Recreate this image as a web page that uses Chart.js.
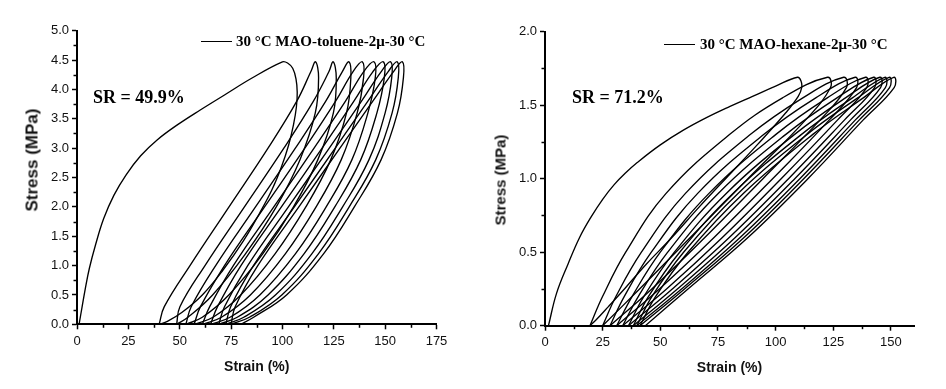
<!DOCTYPE html>
<html>
<head>
<meta charset="utf-8">
<script src="https://cdn.jsdelivr.net/npm/chart.js@4.4.1/dist/chart.umd.min.js"></script>
<style>
  html, body { margin: 0; padding: 0; background: #fff; }
  body { width: 946px; height: 389px; position: relative; overflow: hidden; }
  .wrap { position: absolute; top: 0; }
  .legline { position: absolute; height: 0; border-top: 1.5px solid #000; }
  .legtxt { position: absolute; white-space: nowrap; font: bold 15px 'Liberation Serif', 'Times New Roman', serif; line-height: 18px; color: #000; }
  .sr { position: absolute; white-space: nowrap; font: bold 18px 'Liberation Serif', 'Times New Roman', serif; line-height: 22px; color: #000; }
  .ytitle { position: absolute; white-space: nowrap; font-family: 'Liberation Sans', Arial, sans-serif; font-weight: bold; color: #111;
            transform: translate(-50%, -50%) rotate(-90deg); line-height: 1; }
</style>
</head>
<body>
<div class="wrap" style="left:0;width:470px;height:389px"><canvas id="c1" width="470" height="389"></canvas></div>
<div class="wrap" style="left:470px;width:476px;height:389px"><canvas id="c2" width="476" height="389"></canvas></div>

<div class="ytitle" style="left:31.5px;top:160px;font-size:17px">Stress (MPa)</div>
<div class="legline" style="left:201px;top:40.5px;width:31px"></div>
<div class="legtxt" style="left:236px;top:32px">30 °C MAO-toluene-2μ-30 °C</div>
<div class="sr" style="left:93px;top:86px">SR = 49.9%</div>

<div class="ytitle" style="left:500px;top:180px;font-size:15px">Stress (MPa)</div>
<div class="legline" style="left:664px;top:43.5px;width:31px"></div>
<div class="legtxt" style="left:700px;top:35px">30 °C MAO-hexane-2μ-30 °C</div>
<div class="sr" style="left:572px;top:86px">SR = 71.2%</div>

<script>
// ---------------- Left panel: toluene ----------------
const tolueneXTicks = [0, 25, 50, 75, 100, 125, 150, 175];
const tolueneYTicks = [0, 0.5, 1.0, 1.5, 2.0, 2.5, 3.0, 3.5, 4.0, 4.5, 5.0];
const tolueneXMinor = [12.5, 37.5, 62.5, 87.5, 112.5, 137.5, 162.5];
const tolueneYMinor = [0.25, 0.75, 1.25, 1.75, 2.25, 2.75, 3.25, 3.75, 4.25, 4.75];

// cycle 1
const toluene1LoadStrain = [1, 2.5, 4, 6, 9, 13, 18, 24, 31, 39, 49, 60, 72, 85, 100];
const toluene1LoadStress = [0, 0.3, 0.6, 0.95, 1.35, 1.8, 2.2, 2.55, 2.87, 3.14, 3.4, 3.65, 3.91, 4.19, 4.47];
const toluene1UnloadStrain = [100, 102.5, 105, 106.6, 107.2, 106.8, 105.4, 103, 99.5, 95, 89, 81, 71, 61, 51, 44, 40];
const toluene1UnloadStress = [4.47, 4.45, 4.36, 4.18, 3.95, 3.7, 3.4, 3.05, 2.68, 2.3, 1.9, 1.42, 0.92, 0.5, 0.2, 0.05, 0];

// cycles 2-10
const tolueneLoadStress = [0, 0.3, 1.0, 2.0, 3.0, 3.8, 4.3, 4.47];
const tolueneLoadStrain = [
  [40, 42.5, 55, 74, 93, 107, 113.8, 116.1],
  [48.5, 50.1, 62.3, 81.5, 100.7, 115.1, 122.6, 124.7],
  [53, 55.6, 67.5, 86.9, 106.3, 121.1, 129.1, 132.4],
  [57, 60.1, 71.8, 91.3, 110.9, 125.9, 134.3, 138.9],
  [61, 64.6, 76.1, 95.8, 115.4, 130.7, 139.5, 144.6],
  [65, 68.4, 79.8, 99.5, 119.3, 134.8, 144, 149.1],
  [69, 71.8, 83.1, 102.9, 122.8, 138.5, 148, 152.7],
  [72.5, 74.8, 85.9, 105.8, 125.7, 141.6, 151.4, 155.9],
  [75, 77, 88, 108, 128, 144, 154, 158.4]
];
const tolueneUnloadStress = [4.47, 4.2, 3.6, 2.8, 2.0, 1.2, 0.5, 0.12, 0];
const tolueneUnloadStrain = [
  [116.1, 117.6, 116, 108.5, 97, 82, 66, 54, 48.5],
  [124.7, 126.2, 124.8, 117.2, 105.4, 90.4, 73.9, 61, 53],
  [132.4, 133.3, 131.2, 123.5, 111.4, 96.4, 79.7, 66.2, 57],
  [138.9, 139.5, 136.4, 128.6, 116.4, 101.4, 84.4, 70.3, 61],
  [144.6, 145.2, 141.6, 133.8, 121.3, 106.3, 89, 74.5, 65],
  [149.1, 149.6, 146, 138.1, 125.5, 110.5, 93, 78, 69],
  [152.7, 153.2, 150, 142.1, 129.3, 114.3, 96.6, 81.2, 72.5],
  [155.9, 156.4, 153.4, 145.4, 132.5, 117.5, 99.7, 83.9, 75],
  [158.4, 158.9, 156, 148, 135, 120, 102, 86, 79.6]
];

// ---------------- Right panel: hexane ----------------
const hexaneXTicks = [0, 25, 50, 75, 100, 125, 150];
const hexaneYTicks = [0, 0.5, 1.0, 1.5, 2.0];
const hexaneXMinor = [12.5, 37.5, 62.5, 87.5, 112.5, 137.5];
const hexaneYMinor = [0.25, 0.75, 1.25, 1.75];

const hexane1LoadStrain = [1.5, 5, 10, 15, 20, 25, 30, 35, 40, 50, 60, 70, 80, 90, 100, 109.5];
const hexane1LoadStress = [0, 0.22, 0.42, 0.6, 0.74, 0.86, 0.96, 1.04, 1.11, 1.23, 1.33, 1.415, 1.49, 1.56, 1.63, 1.69];
const hexane1UnloadStrain = [109.5, 111, 111.3, 109.8, 104.5, 92, 79.5, 67, 55, 44, 35, 27.5, 22.2, 19.5];
const hexane1UnloadStress = [1.69, 1.665, 1.62, 1.56, 1.45, 1.23, 1.02, 0.81, 0.6, 0.42, 0.26, 0.13, 0.04, 0];

const hexaneLoadStress = [0, 0.2, 0.5, 0.9, 1.3, 1.55, 1.69];
const hexaneLoadStrain = [
  [19.5, 25, 35, 52.5, 80, 103, 122.5],
  [25, 30.8, 41.8, 60.9, 89, 111.8, 129.5],
  [28.2, 34.4, 46.1, 66.2, 94.8, 117.4, 134.5],
  [31.1, 37.8, 50, 71.1, 100, 122.4, 139],
  [33.7, 40.5, 53.2, 75.1, 104.3, 126.6, 142.5],
  [36.2, 42.9, 56.1, 78.6, 108.1, 130.3, 145.2],
  [38.3, 44.9, 58.4, 81.5, 111.1, 133.3, 147.3],
  [39.8, 46.4, 60.1, 83.7, 113.5, 135.6, 149.2],
  [41.2, 48, 62, 86, 116, 138, 151.2]
];
const hexaneUnloadStress = [1.69, 1.62, 1.4, 1.0, 0.6, 0.25, 0];
const hexaneUnloadStrain = [
  [122.5, 123.8, 113, 88, 63, 41, 25],
  [129.5, 130.7, 119.3, 94.5, 69.3, 46.3, 28.2],
  [134.5, 135.1, 123.3, 98.7, 73.3, 49.6, 31.1],
  [139, 139.5, 126.9, 102.4, 76.9, 52.7, 33.7],
  [142.5, 142.9, 129.9, 105.6, 79.9, 55.2, 36.2],
  [145.2, 145.5, 132.5, 108.3, 82.5, 57.4, 38.3],
  [147.3, 147.6, 134.6, 110.5, 84.6, 59.2, 39.8],
  [149.2, 149.4, 136.3, 112.2, 86.3, 60.5, 41.2],
  [151.2, 151.4, 138, 114, 88, 62, 43.5]
];

// ---------------- helpers ----------------
function pts(xs, ys) { return xs.map((x, i) => ({ x: x, y: ys[i] })); }

function buildCycles(l1x, l1y, u1x, u1y, lx, ly, ux, uy) {
  const cycles = [];
  cycles.push(pts(l1x, l1y).concat(pts(u1x, u1y).slice(1)));
  for (let k = 0; k < lx.length; k++) {
    cycles.push(pts(lx[k], ly).concat(pts(ux[k], uy).slice(1)));
  }
  return cycles;
}

const minorTicksPlugin = {
  id: 'minorTicks',
  afterDraw(chart, args, opts) {
    const ctx = chart.ctx, xs = chart.scales.x, ys = chart.scales.y;
    ctx.save();
    ctx.strokeStyle = '#000';
    ctx.lineWidth = 1.5;
    opts.x.forEach(v => {
      const px = Math.round(xs.getPixelForValue(v)) + 0.5;
      ctx.beginPath(); ctx.moveTo(px, ys.bottom); ctx.lineTo(px, ys.bottom + 3.5); ctx.stroke();
    });
    opts.y.forEach(v => {
      const py = Math.round(ys.getPixelForValue(v)) + 0.5;
      ctx.beginPath(); ctx.moveTo(xs.left, py); ctx.lineTo(xs.left - 3.5, py); ctx.stroke();
    });
    ctx.restore();
  }
};

function makeChart(canvasId, cfg) {
  const datasets = cfg.cycles.map((d, i) => ({
    label: cfg.label,
    data: d,
    showLine: true,
    borderColor: '#000',
    borderWidth: 1.35,
    pointRadius: 0,
    tension: 0.4,
    fill: false
  }));
  const tickFont = { family: "'Liberation Sans', Arial, sans-serif", size: 13 };
  const titleFont = { family: "'Liberation Sans', Arial, sans-serif", size: 14, weight: 'bold' };
  return new Chart(document.getElementById(canvasId), {
    type: 'scatter',
    data: { datasets: datasets },
    plugins: [minorTicksPlugin],
    options: {
      responsive: false,
      animation: false,
      events: [],
      layout: { padding: cfg.padding },
      plugins: {
        legend: { display: false },
        tooltip: { enabled: false },
        minorTicks: { x: cfg.xMinor, y: cfg.yMinor }
      },
      scales: {
        x: {
          type: 'linear', min: 0, max: cfg.xMax,
          afterBuildTicks: s => { s.ticks = cfg.xTicks.map(v => ({ value: v })); },
          afterFit: s => { s.height = 53; },
          grid: { drawOnChartArea: false, drawTicks: true, tickLength: 5, tickWidth: 1.5, tickColor: '#000' },
          border: { display: true, color: '#000', width: 2 },
          ticks: { color: '#111', font: tickFont, padding: 4, maxRotation: 0, autoSkip: false,
                   callback: v => String(v) },
          title: { display: true, text: 'Strain (%)', color: '#111', font: titleFont,
                   padding: { top: 0, bottom: cfg.xTitlePad } }
        },
        y: {
          type: 'linear', min: 0, max: cfg.yMax,
          afterBuildTicks: s => { s.ticks = cfg.yTicks.map(v => ({ value: v })); },
          afterFit: s => { s.width = cfg.yWidth; },
          grid: { drawOnChartArea: false, drawTicks: true, tickLength: 5, tickWidth: 1.5, tickColor: '#000' },
          border: { display: true, color: '#000', width: 2 },
          ticks: { color: '#111', font: tickFont, padding: 3, autoSkip: false,
                   callback: v => Number(v).toFixed(1) },
          title: { display: false }
        }
      }
    }
  });
}

makeChart('c1', {
  label: '30 °C MAO-toluene-2μ-30 °C',
  cycles: buildCycles(toluene1LoadStrain, toluene1LoadStress, toluene1UnloadStrain, toluene1UnloadStress,
                      tolueneLoadStrain, tolueneLoadStress, tolueneUnloadStrain, tolueneUnloadStress),
  xMax: 175, yMax: 5,
  xTicks: tolueneXTicks, yTicks: tolueneYTicks,
  xMinor: tolueneXMinor, yMinor: tolueneYMinor,
  padding: { left: 0, right: 33.5, top: 30.7, bottom: 11.7 },
  yWidth: 77, xTitlePad: 1.9
});

makeChart('c2', {
  label: '30 °C MAO-hexane-2μ-30 °C',
  cycles: buildCycles(hexane1LoadStrain, hexane1LoadStress, hexane1UnloadStrain, hexane1UnloadStress,
                      hexaneLoadStrain, hexaneLoadStress, hexaneUnloadStrain, hexaneUnloadStress),
  xMax: 160, yMax: 2,
  xTicks: hexaneXTicks, yTicks: hexaneYTicks,
  xMinor: hexaneXMinor, yMinor: hexaneYMinor,
  padding: { left: 0, right: 32, top: 31.7, bottom: 10.3 },
  yWidth: 75, xTitlePad: 2
});
</script>
</body>
</html>
